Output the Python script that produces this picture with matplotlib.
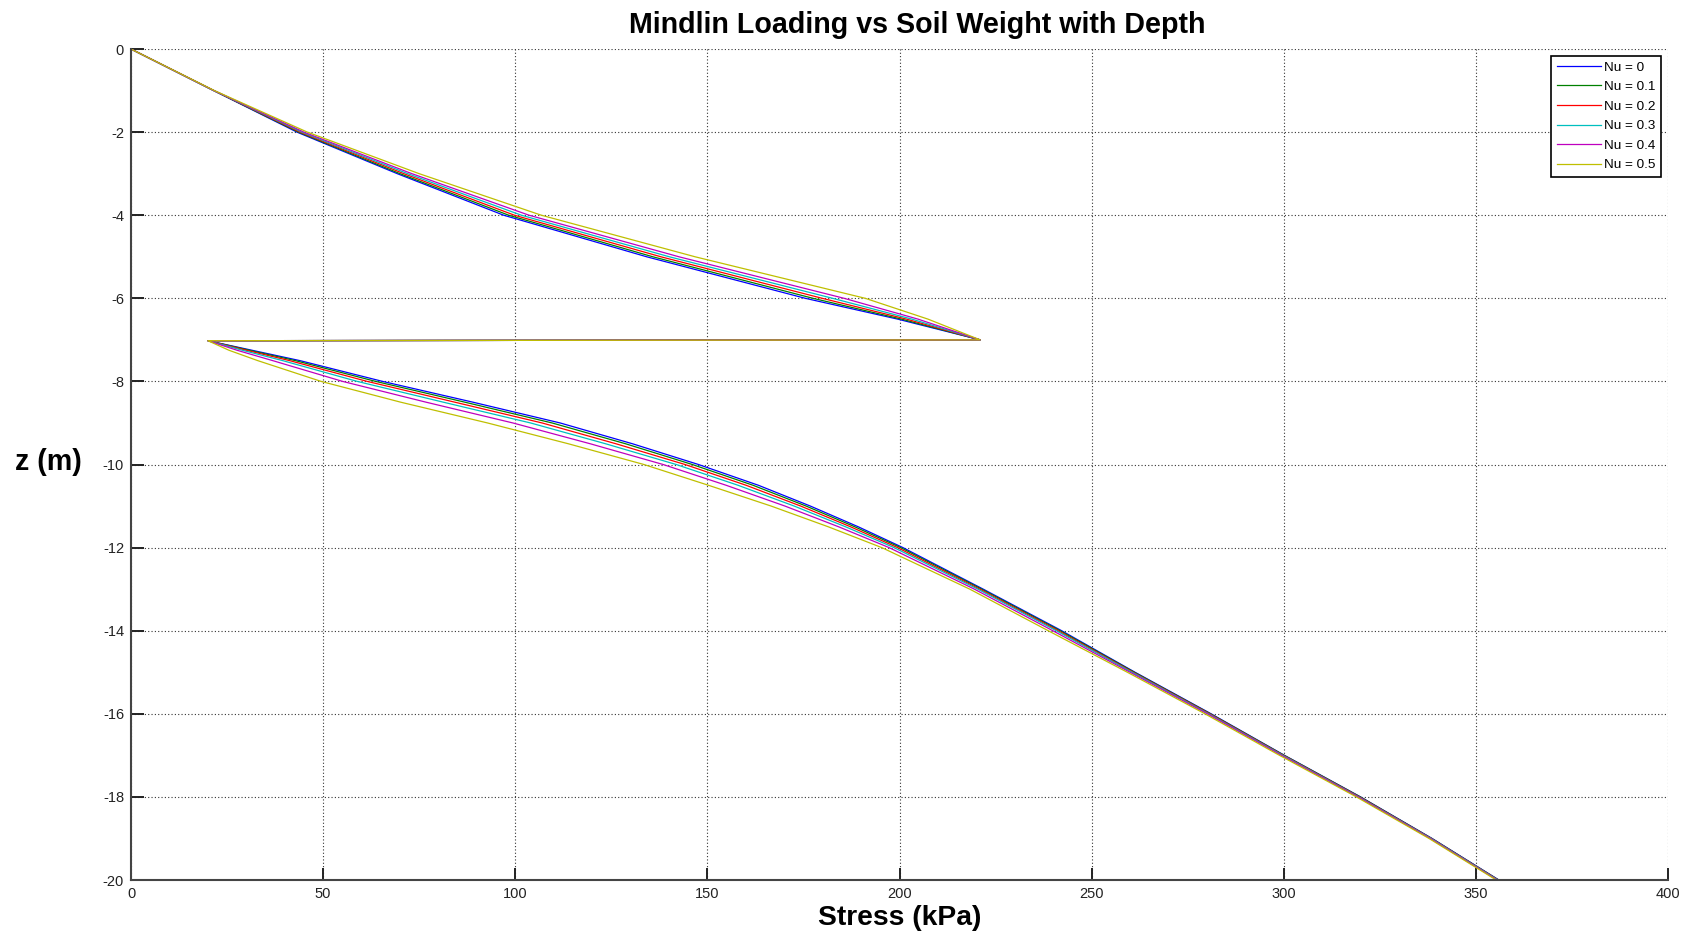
import numpy as np
import matplotlib
matplotlib.use('Agg')
import matplotlib.pyplot as plt

# depth points (m) - upper branch down to the load level, then lower branch
depth = [0, -1, -2, -3, -4, -5, -6, -6.5, -7,
         -7.02, -7.25, -7.5, -8, -8.5, -9, -9.5, -10, -10.5, -11, -11.5, -12,
         -13, -14, -15, -16, -17, -18, -19, -20]

# stress (kPa) for every Poisson ratio
stress_nu0 = [0, 21.5, 43.2, 69.3, 97.0, 134.2, 175.5, 199.5, 221.0,
              20.0, 31.5, 44.0, 65.5, 89.0, 111.7, 130.5, 147.7, 163.3, 176.8, 189.3, 200.9,
              221.8, 242.2, 261.3, 281.1, 300.2, 320.0, 338.6, 356.0]
stress_nu1 = [0, 21.5, 43.6, 70.0, 98.3, 135.8, 177.5, 200.5, 221.0,
              20.0, 30.8, 42.8, 63.7, 86.9, 109.6, 128.7, 146.1, 161.9, 175.7, 188.4, 200.3,
              221.4, 241.8, 261.1, 280.9, 300.1, 319.9, 338.5, 355.9]
stress_nu2 = [0, 21.6, 44.0, 71.0, 99.8, 137.9, 179.9, 201.8, 221.0,
              20.0, 30.0, 41.3, 61.5, 84.3, 107.0, 126.2, 144.2, 160.1, 174.3, 187.3, 199.5,
              220.9, 241.3, 260.8, 280.7, 299.9, 319.7, 338.4, 355.8]
stress_nu3 = [0, 21.6, 44.5, 72.0, 101.6, 140.1, 182.6, 203.2, 221.0,
              20.0, 29.0, 39.5, 58.9, 81.3, 104.0, 123.5, 141.9, 158.0, 172.6, 186.0, 198.6,
              220.4, 240.8, 260.5, 280.4, 299.7, 319.5, 338.3, 355.7]
stress_nu4 = [0, 21.6, 45.0, 73.1, 103.6, 142.6, 185.6, 204.8, 221.0,
              20.0, 27.6, 36.9, 55.1, 76.8, 99.4, 119.5, 138.5, 154.9, 170.2, 184.2, 197.3,
              219.5, 239.9, 260.0, 280.1, 299.4, 319.3, 338.1, 355.5]
stress_nu5 = [0, 21.7, 45.9, 75.0, 106.8, 146.8, 191.1, 207.4, 221.0,
              20.0, 25.5, 33.0, 49.5, 70.2, 92.8, 113.8, 133.5, 150.3, 166.6, 181.5, 195.4,
              218.3, 238.7, 259.3, 279.5, 298.9, 318.9, 337.8, 355.3]

nuLabels = ['Nu = 0', 'Nu = 0.1', 'Nu = 0.2', 'Nu = 0.3', 'Nu = 0.4', 'Nu = 0.5']
xTicks = np.arange(0, 401, 50)
yTicks = np.arange(-20, 1, 2)

# old matlab line order
lineColors = [(0, 0, 1), (0, 0.5, 0), (1, 0, 0), (0, 0.75, 0.75), (0.75, 0, 0.75), (0.75, 0.75, 0)]


def mindlinPlot():
    plt.rcParams['font.family'] = ['Liberation Sans', 'DejaVu Sans']
    plt.rcParams['axes.unicode_minus'] = False

    fig = plt.figure(figsize=(16.84, 9.34), dpi=100)
    ax1 = fig.add_axes([0.0778, 0.0578, 0.9127, 0.8897])

    allStress = [stress_nu0, stress_nu1, stress_nu2, stress_nu3, stress_nu4, stress_nu5]
    for i in range(0, len(allStress)):
        ax1.plot(allStress[i], depth, color=lineColors[i], linewidth=0.9, label=nuLabels[i])

    ax1.set_xlim([0, 400])
    ax1.set_ylim([-20, 0])
    ax1.set_xticks(xTicks)
    ax1.set_yticks(yTicks)
    ax1.tick_params(axis='both', direction='in', length=9, width=1.4, labelsize=10.5,
                    labelcolor='#222222', color='#222222', pad=5)

    for axis in ['top', 'right']:
        ax1.spines[axis].set_visible(False)
    for axis in ['left', 'bottom']:
        ax1.spines[axis].set_linewidth(1.5)
        ax1.spines[axis].set_color('#444444')

    ax1.grid(color='#333333', linestyle=(0, (1, 2)), linewidth=0.8)

    fig.text(0.5445, 0.973, 'Mindlin Loading vs Soil Weight with Depth',
             fontsize=20.6, fontweight='bold', ha='center', va='center')
    fig.text(0.5342, 0.0168, 'Stress (kPa)', fontsize=20.3, fontweight='bold', ha='center', va='center')
    fig.text(0.0285, 0.5057, 'z (m)', fontsize=20.6, fontweight='bold', ha='center', va='center')

    leg = ax1.legend(loc='upper right', fontsize=9.7, handlelength=3.3, handletextpad=0.25,
                     labelspacing=0.53, borderpad=0.4, borderaxespad=0.5, fancybox=False,
                     framealpha=1, edgecolor='black')
    leg.get_frame().set_linewidth(1.2)

    fig.savefig('out.png', dpi=100)


if __name__ == "__main__":
    mindlinPlot()
